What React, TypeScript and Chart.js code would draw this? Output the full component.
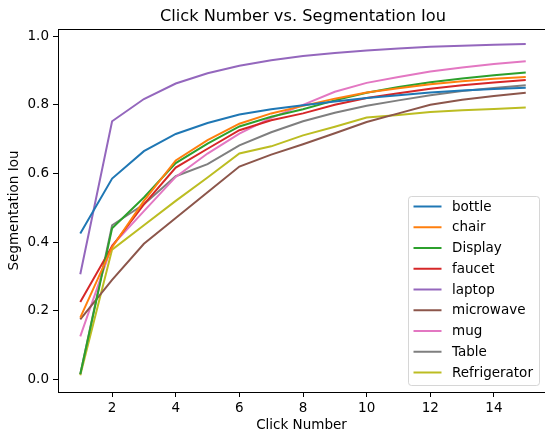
import React, { useEffect, useRef } from 'react';
import { Chart, registerables } from 'chart.js';

Chart.register(...registerables);

const clickNumbers = [1, 2, 3, 4, 5, 6, 7, 8, 9, 10, 11, 12, 13, 14, 15];
const seriesLabels = ['bottle', 'chair', 'Display', 'faucet', 'laptop', 'microwave', 'mug', 'Table', 'Refrigerator'];

const bottle = [0.425, 0.585, 0.665, 0.715, 0.747, 0.772, 0.787, 0.799, 0.81, 0.82, 0.828, 0.836, 0.842, 0.846, 0.85];
const chair = [0.18, 0.385, 0.52, 0.638, 0.697, 0.745, 0.775, 0.797, 0.818, 0.836, 0.848, 0.86, 0.869, 0.876, 0.881];
const display = [0.015, 0.44, 0.53, 0.63, 0.687, 0.737, 0.765, 0.787, 0.813, 0.835, 0.852, 0.866, 0.877, 0.886, 0.894];
const faucet = [0.225, 0.388, 0.51, 0.617, 0.672, 0.726, 0.755, 0.775, 0.8, 0.82, 0.834, 0.847, 0.857, 0.865, 0.872];
const laptop = [0.306, 0.752, 0.817, 0.862, 0.892, 0.914, 0.93, 0.942, 0.951, 0.958, 0.964, 0.969, 0.972, 0.975, 0.977];
const microwave = [0.175, 0.29, 0.395, 0.47, 0.545, 0.62, 0.655, 0.685, 0.717, 0.75, 0.775, 0.8, 0.815, 0.826, 0.835];
const mug = [0.125, 0.39, 0.49, 0.59, 0.658, 0.716, 0.762, 0.8, 0.838, 0.864, 0.881, 0.897, 0.909, 0.919, 0.927];
const table = [0.015, 0.449, 0.51, 0.592, 0.627, 0.682, 0.72, 0.752, 0.777, 0.797, 0.813, 0.828, 0.84, 0.849, 0.857];
const refrigerator = [0.012, 0.378, 0.449, 0.52, 0.588, 0.658, 0.679, 0.711, 0.736, 0.763, 0.77, 0.779, 0.784, 0.788, 0.792];

const seriesColors = ['#1f77b4', '#ff7f0e', '#2ca02c', '#d62728', '#9467bd', '#8c564b', '#e377c2', '#7f7f7f', '#bcbd22'];

const xTickValues = [2, 4, 6, 8, 10, 12, 14];
const yTickValues = [0, 0.2, 0.4, 0.6, 0.8, 1.0];

const titleText = 'Click Number vs. Segmentation Iou';
const xLabel = 'Click Number';
const yLabel = 'Segmentation Iou';

const FONT = "'DejaVu Sans', sans-serif";

export default function App() {
  const ref = useRef<HTMLCanvasElement>(null);

  useEffect(() => {
    const canvas = ref.current;
    if (!canvas) return;
    const seriesValues = [bottle, chair, display, faucet, laptop, microwave, mug, table, refrigerator];
    const datasets = seriesLabels.map((label, i) => ({
      label,
      data: clickNumbers.map((x, j) => ({ x, y: seriesValues[i][j] })),
      borderColor: seriesColors[i],
      backgroundColor: seriesColors[i],
      borderWidth: 2,
      pointRadius: 0,
      pointHoverRadius: 0,
      tension: 0,
      fill: false,
    }));

    const overlay = {
      id: 'overlay',
      afterDraw(chart: any) {
        const ctx = chart.ctx as CanvasRenderingContext2D;
        const { left, right, top, bottom } = chart.chartArea;
        ctx.save();
        // top spine (the axes continue past the cropped right edge)
        ctx.strokeStyle = '#000';
        ctx.lineWidth = 1;
        ctx.beginPath();
        ctx.moveTo(left, Math.round(top) + 0.5);
        ctx.lineTo(right + 5, Math.round(top) + 0.5);
        ctx.stroke();

        // title, centred over the full (uncropped) axes
        ctx.fillStyle = '#000';
        ctx.font = `16.2px ${FONT}`;
        ctx.textAlign = 'center';
        ctx.textBaseline = 'alphabetic';
        ctx.fillText(titleText, (left + right + 3) / 2, 20.5);

        // legend
        const boxW = 131;
        const boxH = 189;
        const bx = right - 6 - boxW;
        const by = bottom - 7 - boxH;
        ctx.beginPath();
        (ctx as any).roundRect(bx + 0.5, by + 0.5, boxW, boxH, 3);
        ctx.fillStyle = 'rgba(255,255,255,0.8)';
        ctx.fill();
        ctx.strokeStyle = 'rgba(204,204,204,0.8)';
        ctx.lineWidth = 1;
        ctx.stroke();
        ctx.font = `13.5px ${FONT}`;
        ctx.textAlign = 'left';
        ctx.textBaseline = 'middle';
        chart.data.datasets.forEach((ds: any, i: number) => {
          const y = by + 10.5 + i * 20.75;
          ctx.strokeStyle = ds.borderColor;
          ctx.lineWidth = 2;
          ctx.beginPath();
          ctx.moveTo(bx + 5.5, y);
          ctx.lineTo(bx + 33.5, y);
          ctx.stroke();
          ctx.fillStyle = '#000';
          ctx.fillText(ds.label, bx + 44, y + 0.5);
        });
        ctx.restore();
      },
    };

    const tickFont = { family: FONT, size: 13.5 };

    const chart = new Chart(canvas, {
      type: 'line',
      data: { datasets },
      options: {
        responsive: false,
        animation: false,
        devicePixelRatio: 1,
        events: [],
        layout: { padding: { top: 29, right: 0, bottom: 0, left: 0 } },
        plugins: {
          legend: { display: false },
          title: { display: false },
          tooltip: { enabled: false },
        },
        scales: {
          x: {
            type: 'linear',
            min: 0.3,
            max: 15.605,
            afterBuildTicks: (s: any) => {
              s.ticks = xTickValues.map((value) => ({ value }));
            },
            afterFit: (s: any) => {
              s.height = 42;
            },
            ticks: {
              autoSkip: false,
              maxRotation: 0,
              color: '#000',
              font: tickFont,
              padding: 3,
              callback: (v: any) => String(v),
            },
            grid: {
              display: true,
              drawOnChartArea: false,
              drawTicks: true,
              tickLength: 5,
              tickColor: '#000',
              tickWidth: 1,
            },
            border: { display: true, color: '#000', width: 1 },
            title: {
              display: true,
              text: xLabel,
              color: '#000',
              font: tickFont,
              padding: { top: 0, bottom: 0 },
            },
          },
          y: {
            type: 'linear',
            min: -0.037,
            max: 1.021,
            afterBuildTicks: (s: any) => {
              s.ticks = yTickValues.map((value) => ({ value }));
            },
            afterFit: (s: any) => {
              s.width = 58;
            },
            ticks: {
              autoSkip: false,
              color: '#000',
              font: tickFont,
              padding: 4,
              callback: (v: any) => Number(v).toFixed(1),
            },
            grid: {
              display: true,
              drawOnChartArea: false,
              drawTicks: true,
              tickLength: 5,
              tickColor: '#000',
              tickWidth: 1,
            },
            border: { display: true, color: '#000', width: 1 },
            title: {
              display: true,
              text: yLabel,
              color: '#000',
              font: tickFont,
              padding: { top: 6, bottom: 0 },
            },
          },
        },
      },
      plugins: [overlay],
    } as any);

    return () => chart.destroy();
  }, []);

  return (
    <div
      style={{
        position: 'fixed',
        left: 0,
        top: 0,
        width: 545,
        height: 434,
        overflow: 'hidden',
        background: '#fff',
      }}
    >
      <canvas ref={ref} width={545} height={434} style={{ display: 'block', width: 545, height: 434 }} />
    </div>
  );
}
